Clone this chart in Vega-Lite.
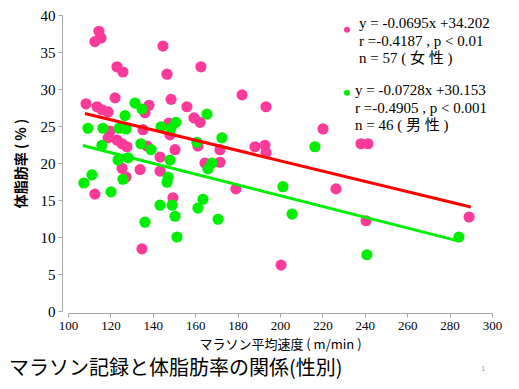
{
  "$schema": "https://vega.github.io/schema/vega-lite/v6.json",
  "width": 424,
  "height": 296,
  "autosize": {"type": "none"},
  "padding": {"left": 68, "top": 15, "right": 27, "bottom": 78},
  "background": "white",
  "config": {"view": {"stroke": null}},
  "title": {
    "text": "マラソン記録と体脂肪率の関係(性別)",
    "orient": "bottom",
    "anchor": "start",
    "font": "Noto Sans CJK JP",
    "fontSize": 20,
    "fontWeight": "normal",
    "color": "#000000",
    "dx": -5,
    "offset": -13
  },
  "datasets": {
    "pts": [
      {"sex": "女性", "speed": 114.6, "fat": 37.8},
      {"sex": "女性", "speed": 112.7, "fat": 36.4},
      {"sex": "女性", "speed": 115.6, "fat": 36.9},
      {"sex": "女性", "speed": 144.8, "fat": 35.8},
      {"sex": "女性", "speed": 123.1, "fat": 33.0},
      {"sex": "女性", "speed": 125.9, "fat": 32.3},
      {"sex": "女性", "speed": 146.7, "fat": 32.0},
      {"sex": "女性", "speed": 162.7, "fat": 33.0},
      {"sex": "女性", "speed": 182.1, "fat": 29.2},
      {"sex": "女性", "speed": 193.4, "fat": 27.6},
      {"sex": "女性", "speed": 108.5, "fat": 28.0},
      {"sex": "女性", "speed": 113.7, "fat": 27.6},
      {"sex": "女性", "speed": 116.0, "fat": 27.2},
      {"sex": "女性", "speed": 118.9, "fat": 26.9},
      {"sex": "女性", "speed": 122.2, "fat": 28.8},
      {"sex": "女性", "speed": 138.2, "fat": 27.8},
      {"sex": "女性", "speed": 136.3, "fat": 26.8},
      {"sex": "女性", "speed": 148.6, "fat": 28.6},
      {"sex": "女性", "speed": 156.1, "fat": 27.6},
      {"sex": "女性", "speed": 159.4, "fat": 26.1},
      {"sex": "女性", "speed": 162.3, "fat": 25.5},
      {"sex": "女性", "speed": 147.6, "fat": 25.4},
      {"sex": "女性", "speed": 148.1, "fat": 23.8},
      {"sex": "女性", "speed": 119.8, "fat": 24.3},
      {"sex": "女性", "speed": 118.9, "fat": 23.4},
      {"sex": "女性", "speed": 123.1, "fat": 23.1},
      {"sex": "女性", "speed": 135.4, "fat": 24.5},
      {"sex": "女性", "speed": 161.3, "fat": 22.3},
      {"sex": "女性", "speed": 188.2, "fat": 22.2},
      {"sex": "女性", "speed": 171.7, "fat": 21.8},
      {"sex": "女性", "speed": 137.3, "fat": 22.3},
      {"sex": "女性", "speed": 125.5, "fat": 22.6},
      {"sex": "女性", "speed": 127.8, "fat": 22.2},
      {"sex": "女性", "speed": 150.5, "fat": 21.8},
      {"sex": "女性", "speed": 143.4, "fat": 20.8},
      {"sex": "女性", "speed": 164.6, "fat": 20.0},
      {"sex": "女性", "speed": 171.7, "fat": 20.1},
      {"sex": "女性", "speed": 134.0, "fat": 19.1},
      {"sex": "女性", "speed": 125.5, "fat": 19.3},
      {"sex": "女性", "speed": 143.4, "fat": 18.9},
      {"sex": "女性", "speed": 127.4, "fat": 18.1},
      {"sex": "女性", "speed": 112.7, "fat": 15.8},
      {"sex": "女性", "speed": 179.2, "fat": 16.5},
      {"sex": "女性", "speed": 149.5, "fat": 15.3},
      {"sex": "女性", "speed": 134.9, "fat": 8.4},
      {"sex": "女性", "speed": 220.3, "fat": 24.6},
      {"sex": "女性", "speed": 192.9, "fat": 22.4},
      {"sex": "女性", "speed": 193.4, "fat": 21.4},
      {"sex": "女性", "speed": 238.2, "fat": 22.6},
      {"sex": "女性", "speed": 241.5, "fat": 22.6},
      {"sex": "女性", "speed": 226.4, "fat": 16.5},
      {"sex": "女性", "speed": 240.6, "fat": 12.2},
      {"sex": "女性", "speed": 289.2, "fat": 12.7},
      {"sex": "女性", "speed": 200.5, "fat": 6.2},
      {"sex": "男性", "speed": 131.6, "fat": 28.1},
      {"sex": "男性", "speed": 134.9, "fat": 27.3},
      {"sex": "男性", "speed": 165.6, "fat": 26.6},
      {"sex": "男性", "speed": 143.9, "fat": 24.9},
      {"sex": "男性", "speed": 148.6, "fat": 24.7},
      {"sex": "男性", "speed": 150.9, "fat": 25.5},
      {"sex": "男性", "speed": 126.9, "fat": 26.4},
      {"sex": "男性", "speed": 109.4, "fat": 24.7},
      {"sex": "男性", "speed": 116.5, "fat": 24.7},
      {"sex": "男性", "speed": 124.1, "fat": 24.7},
      {"sex": "男性", "speed": 127.4, "fat": 24.6},
      {"sex": "男性", "speed": 160.8, "fat": 22.8},
      {"sex": "男性", "speed": 172.6, "fat": 23.4},
      {"sex": "男性", "speed": 134.4, "fat": 22.6},
      {"sex": "男性", "speed": 139.2, "fat": 21.8},
      {"sex": "男性", "speed": 116.0, "fat": 22.4},
      {"sex": "男性", "speed": 148.1, "fat": 20.4},
      {"sex": "男性", "speed": 123.6, "fat": 20.4},
      {"sex": "男性", "speed": 128.3, "fat": 20.7},
      {"sex": "男性", "speed": 167.9, "fat": 20.0},
      {"sex": "男性", "speed": 166.0, "fat": 19.2},
      {"sex": "男性", "speed": 111.3, "fat": 18.4},
      {"sex": "男性", "speed": 125.9, "fat": 17.8},
      {"sex": "男性", "speed": 147.2, "fat": 18.1},
      {"sex": "男性", "speed": 146.7, "fat": 17.4},
      {"sex": "男性", "speed": 107.5, "fat": 17.3},
      {"sex": "男性", "speed": 120.3, "fat": 16.1},
      {"sex": "男性", "speed": 143.4, "fat": 14.3},
      {"sex": "男性", "speed": 149.1, "fat": 14.3},
      {"sex": "男性", "speed": 150.5, "fat": 12.8},
      {"sex": "男性", "speed": 163.7, "fat": 15.1},
      {"sex": "男性", "speed": 161.3, "fat": 13.9},
      {"sex": "男性", "speed": 170.8, "fat": 12.4},
      {"sex": "男性", "speed": 136.3, "fat": 12.0},
      {"sex": "男性", "speed": 151.4, "fat": 10.0},
      {"sex": "男性", "speed": 201.4, "fat": 16.8},
      {"sex": "男性", "speed": 205.7, "fat": 13.1},
      {"sex": "男性", "speed": 284.4, "fat": 10.0},
      {"sex": "男性", "speed": 241.0, "fat": 7.6},
      {"sex": "男性", "speed": 216.5, "fat": 22.2}
    ],
    "fits": [
      {"sex": "女性", "speed": 108, "fat": 26.7},
      {"sex": "女性", "speed": 290, "fat": 14.05},
      {"sex": "男性", "speed": 107, "fat": 22.36},
      {"sex": "男性", "speed": 284, "fat": 9.48}
    ],
    "notes": [
      {"sex": "女性", "speed": 237.3, "fat": 38.9, "label": "y = -0.0695x +34.202"},
      {"sex": "女性", "speed": 237.3, "fat": 36.5, "label": "r =-0.4187 , p < 0.01"},
      {"sex": "女性", "speed": 237.3, "fat": 34.2, "label": "n = 57 ( 女 性 )"},
      {"sex": "男性", "speed": 235.4, "fat": 29.9, "label": "y = -0.0728x +30.153"},
      {"sex": "男性", "speed": 235.4, "fat": 27.5, "label": "r =-0.4905 , p < 0.001"},
      {"sex": "男性", "speed": 235.4, "fat": 25.2, "label": "n = 46 ( 男 性 )"}
    ],
    "keys": [
      {"sex": "女性", "speed": 231.6, "fat": 38.0},
      {"sex": "男性", "speed": 231.6, "fat": 29.5}
    ],
    "page": [
      {"speed": 295.8, "fat": -7.8, "label": "1"}
    ]
  },
  "encoding": {
    "x": {
      "field": "speed", "type": "quantitative",
      "scale": {"domain": [100, 300], "nice": false, "zero": false},
      "axis": {
        "values": [100, 120, 140, 160, 180, 200, 220, 240, 260, 280, 300],
        "grid": false,
        "offset": 2,
        "domainColor": "#a6a6a6",
        "tickColor": "#a6a6a6",
        "tickSize": 4,
        "labelOverlap": false,
        "labelFlush": false,
        "labelFont": "Liberation Serif",
        "labelFontSize": 13,
        "labelColor": "#000000",
        "labelPadding": 2,
        "title": "マラソン平均速度 ( m/min )",
        "titleFont": "Noto Sans CJK JP",
        "titleFontSize": 13,
        "titleFontWeight": "normal",
        "titleColor": "#000000",
        "titlePadding": 6
      }
    },
    "y": {
      "field": "fat", "type": "quantitative",
      "scale": {"domain": [0, 40], "nice": false},
      "axis": {
        "values": [0, 5, 10, 15, 20, 25, 30, 35, 40],
        "grid": false,
        "offset": 6,
        "domainColor": "#a6a6a6",
        "tickColor": "#a6a6a6",
        "tickSize": 4,
        "labelOverlap": false,
        "labelFlush": false,
        "labelFont": "Liberation Serif",
        "labelFontSize": 15,
        "labelColor": "#000000",
        "labelPadding": 3,
        "title": "体脂肪率 ( % )",
        "titleFont": "Noto Sans CJK JP",
        "titleFontSize": 14,
        "titleFontWeight": "bold",
        "titleColor": "#000000",
        "titlePadding": 12
      }
    }
  },
  "resolve": {"scale": {"color": "independent"}},
  "layer": [
    {
      "data": {"name": "pts"},
      "mark": {"type": "circle", "size": 125, "opacity": 1},
      "encoding": {
        "color": {
          "field": "sex", "type": "nominal",
          "scale": {"domain": ["女性", "男性"], "range": ["#fb3a9a", "#00ee00"]},
          "legend": null
        }
      }
    },
    {
      "data": {"name": "fits"},
      "mark": {"type": "line", "strokeWidth": 3},
      "encoding": {
        "detail": {"field": "sex"},
        "color": {
          "field": "sex", "type": "nominal",
          "scale": {"domain": ["女性", "男性"], "range": ["#ff0000", "#00ee00"]},
          "legend": null
        }
      }
    },
    {
      "data": {"name": "keys"},
      "mark": {"type": "circle", "size": 36, "opacity": 1},
      "encoding": {
        "color": {
          "field": "sex", "type": "nominal",
          "scale": {"domain": ["女性", "男性"], "range": ["#fb3a9a", "#00ee00"]},
          "legend": null
        }
      }
    },
    {
      "data": {"name": "notes"},
      "mark": {"type": "text", "align": "left", "baseline": "middle", "font": "Liberation Serif, 'Noto Sans CJK JP'", "fontSize": 15, "color": "#000000"},
      "encoding": {
        "text": {"field": "label"}
      }
    },
    {
      "data": {"name": "page"},
      "mark": {"type": "text", "align": "center", "baseline": "middle", "font": "Liberation Sans", "fontSize": 7, "color": "#999999"},
      "encoding": {
        "text": {"field": "label"}
      }
    }
  ]
}
